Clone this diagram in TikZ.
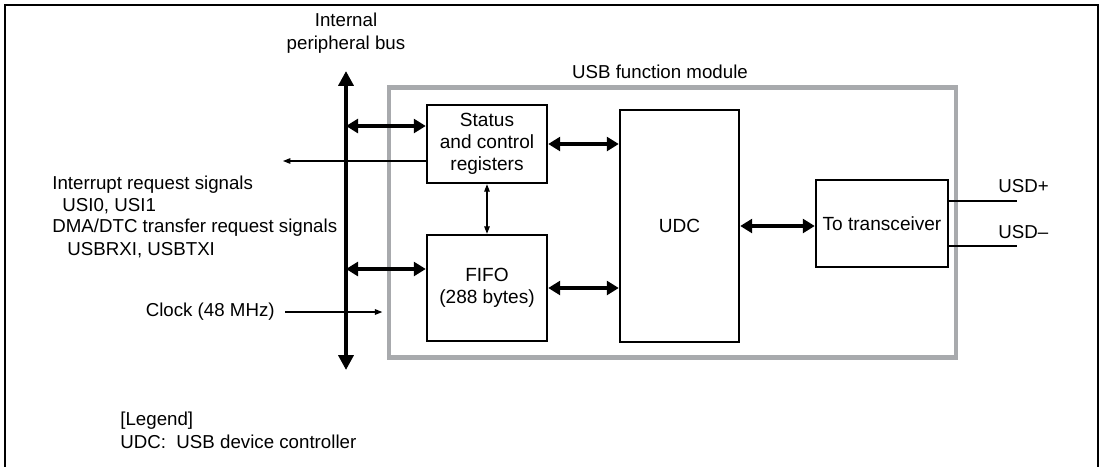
\documentclass[tikz,border=0pt]{standalone}
\usepackage{fontspec}
\setmainfont{Liberation Sans}
\usetikzlibrary{arrows.meta,positioning}
\definecolor{modgray}{RGB}{168,170,173}
\begin{document}
\begin{tikzpicture}[x=0.54pt,y=-0.54pt,line join=miter,
  txt/.style={font=\fontsize{10.1}{12.5}\selectfont,inner sep=0pt},
  blk/.style={draw,line width=1.3pt,align=center,inner sep=0pt,font=\fontsize{10.3}{12}\selectfont},
  bigarr/.style={{Triangle[length=6.5pt,width=7.5pt]}-{Triangle[length=6.5pt,width=7.5pt]},line width=2.1pt},
  thinarr/.style={-{Triangle[length=4pt,width=3pt]},line width=0.6pt}]
\useasboundingbox (0,0) rectangle (1104,466);
\draw[line width=1.6pt] (5,475) -- (5,5) -- (1098,5) -- (1098,475);

\node[draw=modgray,line width=2.2pt,minimum width=567*0.54pt,minimum height=270*0.54pt,inner sep=0pt] (mod) at (672.5,222.5) {};
\node[txt] (modlbl) at (660,72) {USB function module};

\node[blk,minimum width=120*0.54pt,minimum height=78*0.54pt] (stat) at (487,144) {Status\\and control\\registers};
\node[blk,minimum width=120*0.54pt,minimum height=106*0.54pt] (fifo) at (487,288) {FIFO\\(288 bytes)};
\node[blk,minimum width=119*0.54pt,minimum height=232*0.54pt] (udc) at (679.5,226) {UDC};
\node[blk,minimum width=132*0.54pt,minimum height=87*0.54pt] (trx) at (882,223.5) {To transceiver};

\coordinate (bt) at (346,71);
\coordinate (bb) at (346,370);
\draw[line width=2.4pt,{Triangle[length=8pt,width=8pt]}-{Triangle[length=8pt,width=8pt]}] (bt) -- (bb);
\node[txt,align=center] (buslbl) at (346,33) {Internal\\peripheral bus};

\coordinate (b1) at (346,126);
\coordinate (b2) at (346,269);
\draw[bigarr] (b1) -- (stat.west |- b1);
\draw[bigarr] (b2) -- (fifo.west |- b2);
\draw[bigarr] (stat.east) -- (stat.east -| udc.west);
\draw[bigarr] (fifo.east) -- (fifo.east -| udc.west);
\draw[bigarr] (udc.east) -- (udc.east -| trx.west);
\draw[thinarr,{Triangle[length=4pt,width=3pt]}-{Triangle[length=4pt,width=3pt]}] (stat.south) -- (fifo.north);

\coordinate (irq) at (283,161);
\draw[thinarr] (stat.west |- irq) -- (irq);
\node[txt,anchor=west] (irqt) at (52,185) {Interrupt request signals};
\node[txt,anchor=west] (usi) at (62,206) {USI0, USI1};
\node[txt,anchor=west] (dmat) at (52,228) {DMA/DTC transfer request signals};
\node[txt,anchor=west] (usb) at (67,250) {USBRXI, USBTXI};

\node[txt,anchor=east] (clk) at (275,312) {Clock (48 MHz)};
\draw[thinarr] ([xshift=5.4pt]clk.east) -- ([xshift=-2.5pt]mod.west |- clk.east);

\coordinate (dp) at (1017,201);
\coordinate (dm) at (1017,246);
\draw[line width=0.6pt] (trx.east |- dp) -- (dp);
\draw[line width=0.6pt] (trx.east |- dm) -- (dm);
\node[txt,anchor=west] (usdp) at (998,186) {USD+};
\node[txt,anchor=west] (usdm) at (998,232) {USD–};

\node[txt,anchor=west] (leg) at (120,421) {[Legend]};
\node[txt,anchor=west] (legudc) at (120,442) {UDC:\ \ USB device controller};
\end{tikzpicture}
\end{document}
